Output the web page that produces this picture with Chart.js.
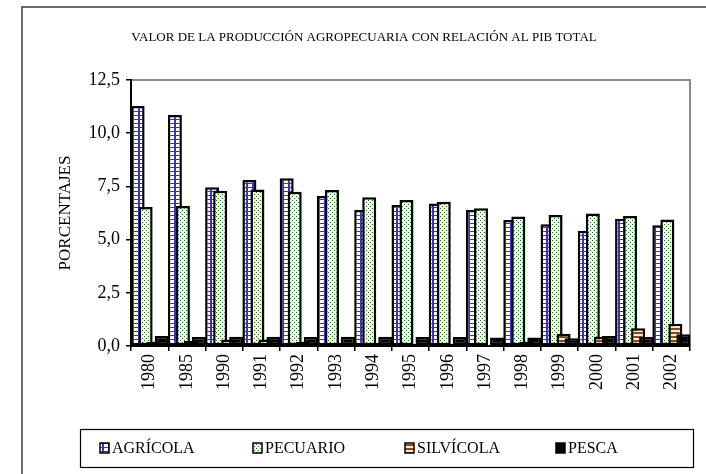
<!DOCTYPE html>
<html>
<head>
<meta charset="utf-8">
<script src="https://cdn.jsdelivr.net/npm/chart.js@4.4.1/dist/chart.umd.min.js"></script>
<style>
  html, body { margin: 0; padding: 0; background: #fff; }
  #wrap { width: 706px; height: 474px; position: relative; }
</style>
</head>
<body>
<div id="wrap"><canvas id="chart" width="706" height="474"></canvas></div>
<script>
// ── Data ───────────────────────────────────────────────────────
const TITLE   = 'VALOR DE LA PRODUCCIÓN AGROPECUARIA CON RELACIÓN AL PIB TOTAL';
const YEARS   = ['1980','1985','1990','1991','1992','1993','1994','1995','1996','1997','1998','1999','2000','2001','2002'];
const AGRICOLA  = [11.28, 10.85, 7.46, 7.80, 7.88, 7.05, 6.39, 6.63, 6.70, 6.39, 5.92, 5.72, 5.42, 5.98, 5.67];
const PECUARIO  = [6.53, 6.58, 7.30, 7.36, 7.25, 7.33, 6.99, 6.86, 6.78, 6.47, 6.08, 6.16, 6.23, 6.11, 5.95];
const SILVICOLA = [0.20, 0.25, 0.30, 0.30, 0.20, 0.15, 0.15, 0.10, 0.10, 0.05, 0.20, 0.57, 0.44, 0.83, 1.05];
const PESCA     = [0.47, 0.42, 0.43, 0.43, 0.42, 0.43, 0.43, 0.42, 0.42, 0.40, 0.40, 0.37, 0.47, 0.42, 0.55];
const Y_MAX  = 12.5;
const Y_STEP = 2.5;
const SERIF  = '"Liberation Serif", "DejaVu Serif", serif';

// ── Patterns ───────────────────────────────────────────────────
function makePattern(w, h, paint) {
  const c = document.createElement('canvas');
  c.width = w; c.height = h;
  paint(c.getContext('2d'));
  return c.getContext('2d').createPattern(c, 'repeat');
}

const patAgricola = makePattern(6, 4, g => {
  g.fillStyle = '#ffffff'; g.fillRect(0, 0, 6, 4);
  g.fillStyle = '#3a2fd0';
  g.fillRect(0, 0, 2, 4);
  g.fillRect(0, 3, 6, 1);
});
const patPecuario = makePattern(4, 4, g => {
  g.fillStyle = '#eefaea'; g.fillRect(0, 0, 4, 4);
  g.fillStyle = '#1f6a1f';
  g.fillRect(0, 0, 1, 1);
  g.fillRect(2, 2, 1, 1);
});
const patSilvicola = makePattern(4, 4, g => {
  g.fillStyle = '#f7ead8'; g.fillRect(0, 0, 4, 4);
  g.fillStyle = '#8a4a12'; g.fillRect(0, 0, 4, 2);
});

const SERIES = [
  { label: 'AGRÍCOLA',  data: AGRICOLA,  fill: patAgricola },
  { label: 'PECUARIO',  data: PECUARIO,  fill: patPecuario },
  { label: 'SILVÍCOLA', data: SILVICOLA, fill: patSilvicola },
  { label: 'PESCA',     data: PESCA,     fill: '#000000' },
];

const fmt = v => v.toFixed(1).replace('.', ',');

// ── Plugins ────────────────────────────────────────────────────

// draw datasets in index order so later series sit on top (as in Excel)
const drawOrder = {
  id: 'drawOrder',
  beforeDatasetsDraw(chart) {
    const a = chart.chartArea, ctx = chart.ctx;
    ctx.save();
    ctx.beginPath();
    ctx.rect(a.left - 2, a.top - 2, a.right - a.left + 4, a.bottom - a.top + 4);
    ctx.clip();
    chart.getSortedVisibleDatasetMetas().forEach(m => m.controller.draw());
    ctx.restore();
    return false;
  },
};

const frame = {
  id: 'frame',
  beforeDraw(chart) {
    const ctx = chart.ctx;
    ctx.save();
    ctx.fillStyle = '#fff';
    ctx.fillRect(0, 0, chart.width, chart.height);
    // outer border
    ctx.strokeStyle = '#3c3c3c';
    ctx.lineWidth = 1.5;
    ctx.beginPath();
    ctx.moveTo(22, chart.height + 2);
    ctx.lineTo(22, 7);
    ctx.lineTo(chart.width + 2, 7);
    ctx.stroke();
    // title
    ctx.fillStyle = '#000';
    ctx.font = '13px ' + SERIF;
    ctx.textAlign = 'center';
    ctx.textBaseline = 'middle';
    ctx.fillText(TITLE, 364, 38);
    // plot area top/right edges
    const a = chart.chartArea;
    ctx.strokeStyle = '#8c8c8c';
    ctx.lineWidth = 2;
    ctx.beginPath();
    ctx.moveTo(a.left, a.top);
    ctx.lineTo(a.right, a.top);
    ctx.lineTo(a.right, a.bottom);
    ctx.stroke();
    ctx.restore();
  },
  afterDraw(chart) {
    const ctx = chart.ctx;
    ctx.save();
    ctx.strokeStyle = '#000';
    ctx.lineWidth = 1.2;
    ctx.strokeRect(80.5, 429.5, 613, 38);
    const xs = [100, 253, 405, 556];
    ctx.font = '16px ' + SERIF;
    ctx.textAlign = 'left';
    ctx.textBaseline = 'middle';
    chart.data.datasets.forEach((ds, i) => {
      const x = xs[i], y = 448;
      ctx.fillStyle = ds.backgroundColor;
      ctx.fillRect(x, y - 5, 9, 10);
      ctx.lineWidth = 1.5;
      ctx.strokeStyle = '#000';
      ctx.strokeRect(x, y - 5, 9, 10);
      ctx.fillStyle = '#000';
      ctx.fillText(ds.label, x + 12, y + 1);
    });
    ctx.restore();
  },
};

// ── Chart ──────────────────────────────────────────────────────
new Chart(document.getElementById('chart'), {
  type: 'bar',
  data: {
    labels: YEARS,
    datasets: SERIES.map(s => ({
      label: s.label,
      data: s.data,
      backgroundColor: s.fill,
      borderColor: '#000',
      borderWidth: 2.5,
      borderSkipped: false,
      categoryPercentage: 0.86,
      barPercentage: 1.75,
    })),
  },
  options: {
    responsive: false,
    animation: false,
    layout: { padding: { left: 22, top: 80, right: 16, bottom: 0 } },
    plugins: {
      legend: { display: false },
      title: { display: false },
      tooltip: { enabled: false },
    },
    scales: {
      x: {
        afterFit: s => { s.height = 474 - 346; },
        border: { color: '#000', width: 2 },
        grid: { display: true, offset: true, drawOnChartArea: false, color: '#000', tickLength: 5, lineWidth: 1.5 },
        ticks: {
          color: '#000', minRotation: 90, maxRotation: 90, padding: 3,
          font: { family: SERIF, size: 18 },
        },
      },
      y: {
        min: 0, max: Y_MAX,
        afterFit: s => { s.width = 131 - 22; },
        border: { color: '#000', width: 2 },
        grid: { display: true, drawOnChartArea: false, color: '#000', tickLength: 5, lineWidth: 1.5 },
        ticks: {
          stepSize: Y_STEP, color: '#000', padding: 6,
          font: { family: SERIF, size: 18 },
          callback: v => fmt(v),
        },
        title: {
          display: true, text: 'PORCENTAJES', color: '#000',
          font: { family: SERIF, size: 17 },
          padding: { top: 33, bottom: 0 },
        },
      },
    },
  },
  plugins: [frame, drawOrder],
});
</script>
</body>
</html>
